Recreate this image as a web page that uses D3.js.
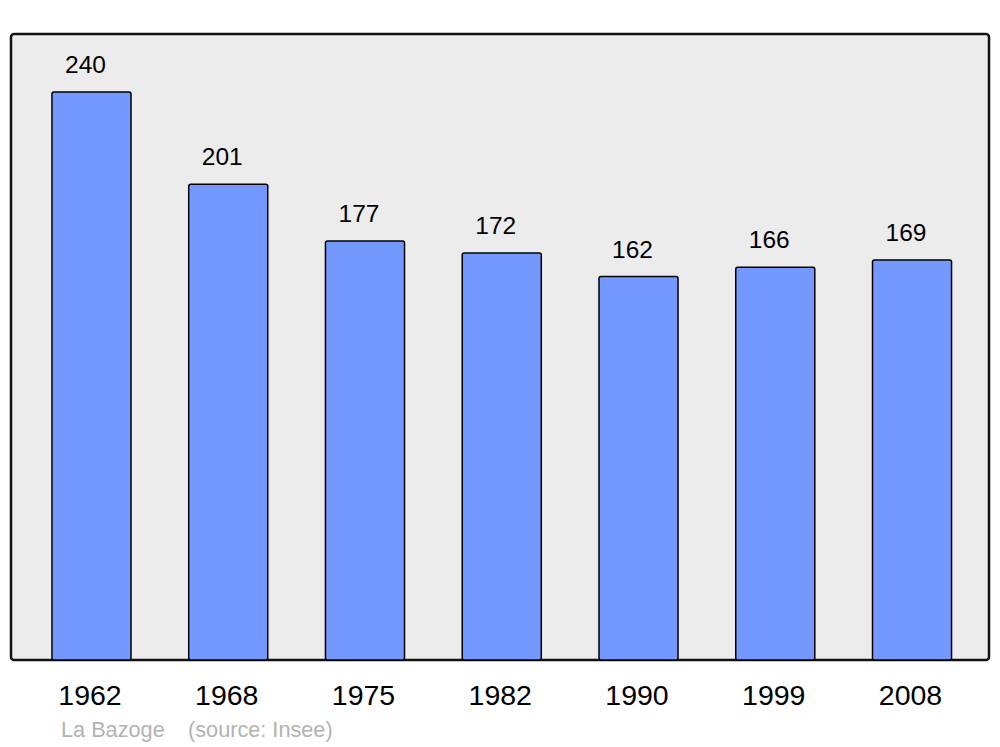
<!DOCTYPE html>
<html><head><meta charset="utf-8">
<script src="https://cdn.jsdelivr.net/npm/d3@7"></script>
<style>body{margin:0;background:#fff}svg{display:block}</style>
</head><body>
<script>
const years = ["1962","1968","1975","1982","1990","1999","2008"];
const population = [240,201,177,172,162,166,169];
const caption = ["La Bazoge", "(source: Insee)"];

const W = 1000, H = 747;
const svg = d3.select("body").append("svg").attr("width", W).attr("height", H);
const font = "Liberation Sans, Arial, sans-serif";

svg.append("rect").attr("x", 11).attr("y", 34).attr("width", 978).attr("height", 626)
  .attr("rx", 3).attr("fill", "#ececec").attr("stroke", "#111").attr("stroke-width", 2.5);

const x = d3.scaleBand().domain(years).range([23.1, 980.4]).paddingInner(0.422).paddingOuter(0.211);
const y = d3.scaleLinear().domain([0, 240]).range([660, 92]);

svg.selectAll("rect.bar").data(population).join("rect").attr("class", "bar")
  .attr("x", (d, i) => x(years[i]))
  .attr("y", d => y(d))
  .attr("width", x.bandwidth())
  .attr("height", d => y(0) - y(d))
  .attr("rx", 2)
  .attr("fill", "#7399ff").attr("stroke", "#000").attr("stroke-width", 1.5);

svg.selectAll("text.val").data(population).join("text").attr("class", "val")
  .attr("x", (d, i) => x(years[i]) + x.bandwidth() / 2 - 6)
  .attr("y", d => y(d) - 19)
  .attr("text-anchor", "middle").attr("font-family", font).attr("font-size", 24.5)
  .attr("fill", "#000").text(d => d);

const xAxis = svg.append("g").attr("transform", "translate(0,660)")
  .call(d3.axisBottom(x).tickSize(0).tickPadding(45));
xAxis.select(".domain").remove();
xAxis.selectAll("text").attr("font-family", font).attr("font-size", 28.5).attr("fill", "#000")
  .attr("dy", 0).attr("y", 45).attr("dx", -1.5);

svg.append("text").attr("x", 61).attr("y", 737).attr("font-family", font).attr("font-size", 21.7)
  .attr("fill", "#b3b3b3").text(caption[0]);
svg.append("text").attr("x", 188).attr("y", 737).attr("font-family", font).attr("font-size", 21.7)
  .attr("fill", "#b3b3b3").text(caption[1]);
</script>
</body></html>
